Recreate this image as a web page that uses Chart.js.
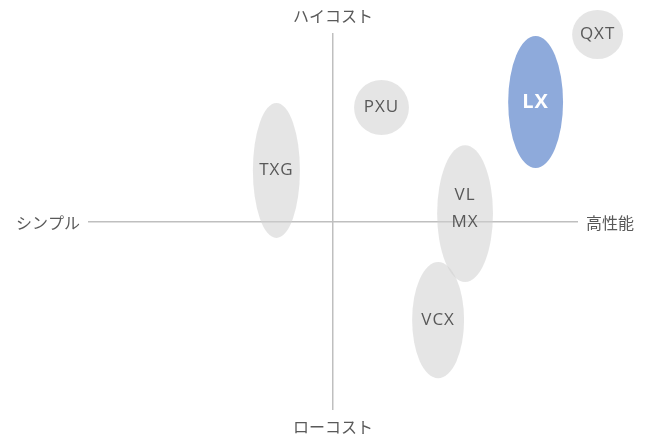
<!DOCTYPE html>
<html>
<head>
<meta charset="utf-8">
<script src="https://cdn.jsdelivr.net/npm/chart.js@4/dist/chart.umd.min.js"></script>
<style>
  html, body { margin: 0; padding: 0; background: #fff; }
  #wrap { width: 654px; height: 439px; }
</style>
</head>
<body>
<div id="wrap"><canvas id="mapChart"></canvas></div>
<script>
// ポジショニングマップのデータ
const names = ['QXT', 'LX', 'PXU', 'TXG', 'VL\nMX', 'VCX'];
const perfValues = [10.8, 8.27, 1.98, -2.31, 5.39, 4.29];   // 横軸: シンプル ⇔ 高性能
const costValues = [9.92, 6.34, 6.05, 2.71, 0.42, -5.23];   // 縦軸: ローコスト ⇔ ハイコスト
const perfSpread = [1.04, 1.12, 1.12, 0.96, 1.14, 1.06];    // 楕円の横半径 (データ単位)
const costSpread = [1.30, 3.50, 1.46, 3.58, 3.63, 3.08];    // 楕円の縦半径 (データ単位)
const highlight = 'LX';

const axisLabels = { left: 'シンプル', right: '高性能', top: 'ハイコスト', bottom: 'ローコスト' };

const latinFont = '"Open Sans", "Noto Sans CJK JP", sans-serif';
const jpFont = '"Noto Sans CJK JP", "Open Sans", sans-serif';

const points = names.map((n, i) => ({ x: perfValues[i], y: costValues[i] }));

const ellipsePlugin = {
    id: 'ellipses',
    beforeDatasetsDraw(chart) {
        const { ctx, scales: { x, y } } = chart;
        const meta = chart.getDatasetMeta(0);
        ctx.save();
        meta.data.forEach((pt, i) => {
            const rx = Math.abs(x.getPixelForValue(perfValues[i] + perfSpread[i]) - pt.x);
            const ry = Math.abs(y.getPixelForValue(costValues[i] + costSpread[i]) - pt.y);
            ctx.beginPath();
            ctx.ellipse(pt.x, pt.y, rx, ry, 0, 0, Math.PI * 2);
            ctx.fillStyle = names[i] === highlight ? '#8eaadb' : 'rgba(208,208,208,0.55)';
            ctx.fill();
        });
        ctx.restore();
    },
    afterDatasetsDraw(chart) {
        const { ctx } = chart;
        const meta = chart.getDatasetMeta(0);
        ctx.save();
        ctx.textAlign = 'center';
        ctx.textBaseline = 'middle';
        meta.data.forEach((pt, i) => {
            const lines = names[i].split('\n');
            const isHi = names[i] === highlight;
            ctx.font = (isHi ? 'bold 20px ' : '17px ') + latinFont;
            ctx.fillStyle = isHi ? '#ffffff' : '#595959';
            ctx.letterSpacing = '1px';
            const lh = 27;
            // 2行ラベルは少し上寄せ
            const startY = pt.y - (lines.length - 1) * lh / 2 - (lines.length > 1 ? 5 : 0);
            lines.forEach((ln, k) => ctx.fillText(ln, pt.x, startY + k * lh));
        });
        ctx.restore();
    },
    afterDraw(chart) {
        const { ctx, chartArea: a } = chart;
        const x0 = chart.scales.x.getPixelForValue(0);
        const y0 = chart.scales.y.getPixelForValue(0);
        ctx.save();
        ctx.font = '16px ' + jpFont;
        ctx.fillStyle = '#595959';
        ctx.textBaseline = 'middle';
        ctx.textAlign = 'right';
        ctx.fillText(axisLabels.left, a.left - 8, y0 + 1);
        ctx.textAlign = 'left';
        ctx.fillText(axisLabels.right, a.right + 8, y0 + 1);
        ctx.textAlign = 'center';
        ctx.fillText(axisLabels.top, x0, a.top - 17);
        ctx.fillText(axisLabels.bottom, x0, a.bottom + 17);
        ctx.restore();
    }
};

const axisGrid = {
    color: c => c.tick.value === 0 ? '#bfbfbf' : 'rgba(0,0,0,0)',
    lineWidth: 1.5,
    drawTicks: false
};

new Chart(document.getElementById('mapChart'), {
    type: 'scatter',
    data: {
        datasets: [{
            data: points,
            pointRadius: 0,
            pointHoverRadius: 0,
            clip: false
        }]
    },
    options: {
        responsive: true,
        maintainAspectRatio: false,
        animation: false,
        layout: { padding: { left: 88, right: 76, top: 33, bottom: 29 } },
        plugins: { legend: { display: false }, tooltip: { enabled: false } },
        scales: {
            x: {
                min: -10, max: 10,
                ticks: { display: false, stepSize: 10 },
                grid: axisGrid,
                border: { display: false }
            },
            y: {
                min: -10, max: 10,
                ticks: { display: false, stepSize: 10 },
                grid: axisGrid,
                border: { display: false }
            }
        }
    },
    plugins: [ellipsePlugin]
});
</script>
</body>
</html>
